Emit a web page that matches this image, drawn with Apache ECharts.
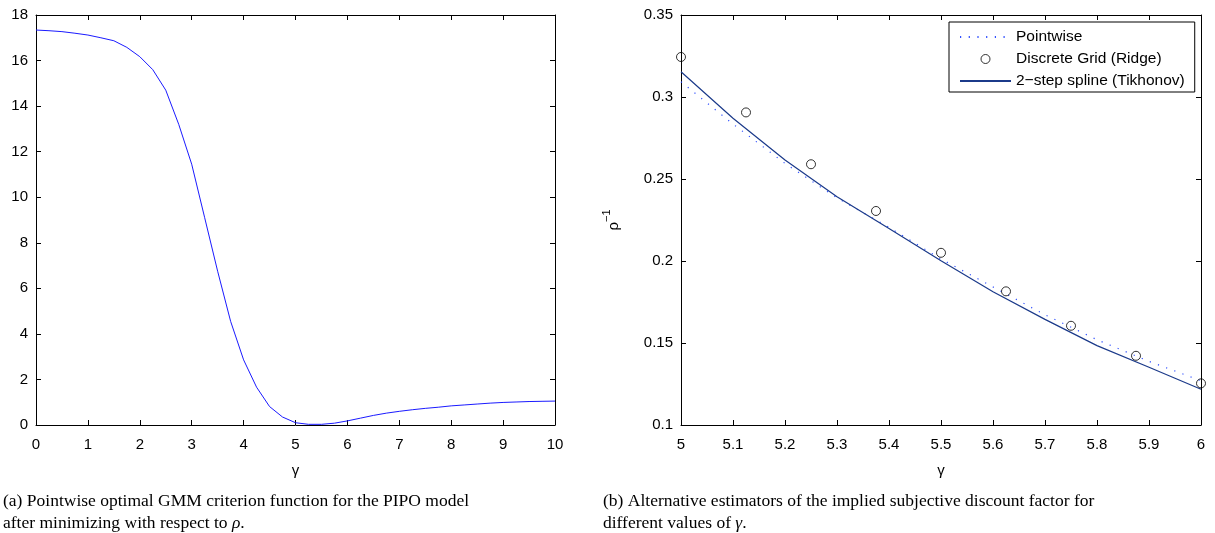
<!DOCTYPE html>
<html>
<head>
<meta charset="utf-8">
<script src="https://cdn.jsdelivr.net/npm/echarts@6/dist/echarts.min.js"></script>
<style>
  html, body { margin: 0; padding: 0; background: #fff; }
  #chart { width: 1215px; height: 533px; }
</style>
</head>
<body>
<div id="chart"></div>
<script>
// (a) criterion function against gamma
const gammaA = [0, 0.25, 0.5, 0.75, 1, 1.25, 1.5, 1.75, 2, 2.25, 2.5, 2.75, 3, 3.25, 3.5, 3.75,
  4, 4.25, 4.5, 4.75, 5, 5.25, 5.5, 5.75, 6, 6.25, 6.5, 6.75, 7, 7.25, 7.5, 7.75,
  8, 8.25, 8.5, 8.75, 9, 9.25, 9.5, 9.75, 10]
const criterion = [17.34, 17.31, 17.27, 17.2, 17.12, 17.0, 16.87, 16.58, 16.17, 15.6, 14.7, 13.2, 11.45, 9.1, 6.75, 4.55,
  2.86, 1.66, 0.81, 0.35, 0.1, 0.03, 0.03, 0.08, 0.18, 0.3, 0.42, 0.52, 0.6, 0.67, 0.73, 0.78,
  0.84, 0.88, 0.92, 0.96, 0.99, 1.01, 1.03, 1.04, 1.05]

// (b) estimators of rho^-1 against gamma
const gammaB = [5, 5.1, 5.2, 5.3, 5.4, 5.5, 5.6, 5.7, 5.8, 5.9, 6]
const pointwise = [0.3093, 0.2835, 0.2595, 0.2385, 0.2205, 0.2012, 0.1842, 0.1672, 0.1520, 0.1388, 0.1270]
const spline = [0.3154, 0.2870, 0.2616, 0.2392, 0.2198, 0.2002, 0.1813, 0.1644, 0.1484, 0.1352, 0.1218]
const gammaGrid = [5, 5.125, 5.25, 5.375, 5.5, 5.625, 5.75, 5.875, 6]
const ridge = [0.3244, 0.2906, 0.2590, 0.2305, 0.2050, 0.1815, 0.1605, 0.1422, 0.1254]

// axis ranges [min, max, interval]
const xTicksA = [0, 10, 1]
const yTicksA = [0, 18, 2]
const xTicksB = [5, 6, 0.1]
const yTicksB = [0.1, 0.35, 0.05]

const seriesNames = ['Pointwise', 'Discrete Grid (Ridge)', '2\u2212step spline (Tikhonov)']

const zip = (xs, ys) => xs.map((x, i) => [x, ys[i]])

const sans = 'Liberation Sans'
const serif = 'Liberation Serif'

function axis (gridIndex, ticks, position, opts) {
  const main = position === 'bottom' || position === 'left'
  return Object.assign({
    type: 'value',
    gridIndex,
    position,
    min: ticks[0],
    max: ticks[1],
    interval: ticks[2],
    axisLine: { show: true, onZero: false, lineStyle: { color: '#000', width: 1 } },
    axisTick: { show: true, inside: true, length: 5, lineStyle: { color: '#000' } },
    axisLabel: { show: main, color: '#000', fontFamily: sans, fontSize: 15, margin: 8 },
    splitLine: { show: false }
  }, opts || {})
}

const gammaName = {
  name: '\u03b3', nameLocation: 'middle', nameGap: 38,
  nameTextStyle: { fontFamily: sans, fontSize: 15, color: '#000' },
  axisLabel: { color: '#000', fontFamily: sans, fontSize: 15, margin: 12 }
}

const chart = echarts.init(document.getElementById('chart'), null, { renderer: 'canvas' })

const option = {
  animation: false,
  backgroundColor: '#fff',
  grid: [
    { left: 36, top: 15, width: 519, height: 410 },
    { left: 681, top: 15, width: 520, height: 410 }
  ],
  xAxis: [
    axis(0, xTicksA, 'bottom', gammaName),
    axis(0, xTicksA, 'top'),
    axis(1, xTicksB, 'bottom', gammaName),
    axis(1, xTicksB, 'top')
  ],
  yAxis: [
    axis(0, yTicksA, 'left'),
    axis(0, yTicksA, 'right'),
    axis(1, yTicksB, 'left', {
      name: '{a|\u03c1}{s|\u22121}', nameLocation: 'middle', nameRotate: 90, nameGap: 60,
      nameTextStyle: {
        color: '#000',
        rich: {
          a: { fontFamily: sans, fontSize: 15, lineHeight: 20, verticalAlign: 'bottom' },
          s: { fontFamily: sans, fontSize: 11, lineHeight: 20, verticalAlign: 'top' }
        }
      }
    }),
    axis(1, yTicksB, 'right')
  ],
  legend: {
    orient: 'vertical',
    left: 949,
    top: 22,
    padding: [7, 10, 3, 10],
    itemWidth: 51,
    itemHeight: 9,
    itemGap: 6,
    textStyle: { fontFamily: sans, fontSize: 15.5, color: '#000', lineHeight: 14 },
    borderColor: '#000',
    borderWidth: 1,
    backgroundColor: '#fff',
    selectedMode: false,
    data: [
      { name: seriesNames[0], itemStyle: { opacity: 0 } },
      { name: seriesNames[1], itemStyle: { color: 'none', borderColor: '#000', borderWidth: 1 } },
      { name: seriesNames[2], itemStyle: { opacity: 0 } }
    ]
  },
  series: [
    {
      type: 'line', xAxisIndex: 0, yAxisIndex: 0,
      data: zip(gammaA, criterion),
      symbol: 'none',
      lineStyle: { color: '#1a1aff', width: 1 }
    },
    {
      name: seriesNames[0],
      type: 'line', xAxisIndex: 2, yAxisIndex: 2,
      data: zip(gammaB, pointwise),
      symbol: 'none',
      itemStyle: { color: '#3050ff' },
      lineStyle: { color: '#3050ff', width: 1.2, type: [1.2, 7.5] }
    },
    {
      name: seriesNames[1],
      type: 'scatter', xAxisIndex: 2, yAxisIndex: 2,
      data: zip(gammaGrid, ridge),
      symbol: 'circle',
      symbolSize: 9,
      clip: false,
      itemStyle: { color: 'none', borderColor: '#000', borderWidth: 1 },
      z: 5
    },
    {
      name: seriesNames[2],
      type: 'line', xAxisIndex: 2, yAxisIndex: 2,
      data: zip(gammaB, spline),
      symbol: 'none',
      itemStyle: { color: '#1b3a8a' },
      lineStyle: { color: '#1b3a8a', width: 1.2 }
    }
  ],
  graphic: [
    {
      type: 'text', x: 3, y: 501,
      style: { text: '(a) Pointwise optimal GMM criterion function for the PIPO model', font: '17.5px "Liberation Serif"', fill: '#000', verticalAlign: 'middle' }
    },
    {
      type: 'text', x: 3, y: 523,
      style: {
        text: '{n|after minimizing with respect to }{i|\u03c1}{n|.}',
        verticalAlign: 'middle',
        rich: {
          n: { fontFamily: serif, fontSize: 17.5, fill: '#000' },
          i: { fontFamily: serif, fontSize: 17.5, fontStyle: 'italic', fill: '#000' }
        }
      }
    },
    {
      type: 'text', x: 603, y: 501,
      style: { text: '(b) Alternative estimators of the implied subjective discount factor for', font: '17.5px "Liberation Serif"', fill: '#000', verticalAlign: 'middle' }
    },
    {
      type: 'text', x: 603, y: 523,
      style: {
        text: '{n|different values of }{i|\u03b3}{n|.}',
        verticalAlign: 'middle',
        rich: {
          n: { fontFamily: serif, fontSize: 17.5, fill: '#000' },
          i: { fontFamily: serif, fontSize: 17.5, fontStyle: 'italic', fill: '#000' }
        }
      }
    }
  ]
}

chart.setOption(option)
</script>
</body>
</html>
